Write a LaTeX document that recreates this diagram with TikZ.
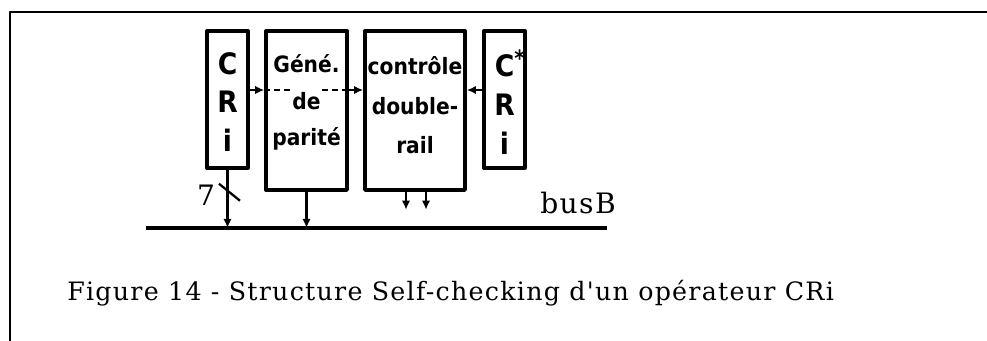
\documentclass[tikz,border=0pt]{standalone}
\usepackage{fontspec}
\setmainfont{DejaVu Serif}
\newfontfamily\boxfont{DejaVu Sans Condensed}
\newfontfamily\capfont[LetterSpace=5]{DejaVu Serif}
\usetikzlibrary{arrows.meta,positioning}

\begin{document}
\begin{tikzpicture}[x=0.025cm,y=-0.025cm,line join=round,
    >={Latex[length=6.5pt,width=6pt]},
    blk/.style={draw,line width=2.6pt,inner sep=0pt},
    narrow/.style={blk,minimum width=1.02cm,minimum height=3.42cm},
    wide/.style={blk,minimum height=3.97cm},
    txt/.style={font=\boxfont\bfseries\fontsize{16}{20}\selectfont,inner sep=1pt},
    big/.style={font=\boxfont\bfseries\fontsize{21}{27.7}\selectfont,align=center,inner sep=0pt},
    flow/.style={->,line width=1.6pt},
    lbl/.style={font=\capfont\fontsize{18}{20}\selectfont,inner sep=0pt}]
  % ---- page frame ---------------------------------------------------------
  \useasboundingbox (0,0) rectangle (987,341);
  \draw[line width=2pt] (10,341) -- (10,12) -- (987,12);

  % ---- blocks -------------------------------------------------------------
  \node[narrow] (cri)  at (227.5,99.5) {};
  \node[wide,minimum width=2.02cm] (gen) at (306.5,110.5) {};
  \node[wide,minimum width=2.5cm]  (ctl) at (415,110.5) {};
  \node[narrow] (cris) at (504.5,99.5) {};

  % ---- block texts --------------------------------------------------------
  \node[big] (criT)  at (227.5,102) {C\\R\\i};
  \node[big] (crisT) at (504.5,102) {C\rlap{\raisebox{0.6ex}{\fontsize{16}{16}\selectfont*}}\\R\\i};
  \node[txt] (genA) at (306.5,64)  {Géné.};
  \node[txt,fill=white] (genB) at (306.5,101) {de};
  \node[txt] (genC) at (306.5,139) {parité};
  \node[txt] (ctlA) at (415,66)  {contrôle};
  \node[txt] (ctlB) at (415,106) {double-};
  \node[txt] (ctlC) at (415,145) {rail};

  % ---- horizontal links ---------------------------------------------------
  \coordinate (row) at (0,90);
  \draw[flow] (cri.east |- row) -- (gen.west |- row);
  \draw[flow] (gen.east |- row) -- (ctl.west |- row);
  \draw[flow] (cris.west |- row) -- (ctl.east |- row);
  \draw[line width=1.4pt,dash pattern=on 4pt off 3pt]
    (gen.west |- row) -- (genB.west |- row);
  \draw[line width=1.4pt,dash pattern=on 4pt off 3pt]
    (genB.east |- row) -- (gen.east |- row);

  % ---- bus B --------------------------------------------------------------
  \coordinate (busL) at (146,228);
  \coordinate (busR) at (607,228);
  \draw[line width=3pt] (busL) -- (busR);
  \node[lbl,font=\capfont\fontsize{20}{22}\selectfont] (busB) at (578,203) {busB};

  \draw[flow] (cri.south) -- (cri.south |- busL);
  \draw[line width=1.6pt] ([shift={(-8.5,14)}]cri.south) -- ++(21,17);
  \node[lbl,font=\capfont\fontsize{20}{22}\selectfont] (width) at (206,195) {7};
  \draw[flow] (gen.south) -- (gen.south |- busL);
  \draw[flow] ([shift={(-9,0)}]ctl.south) -- ++(0,18);
  \draw[flow] ([shift={(11,0)}]ctl.south) -- ++(0,18);

  % ---- caption ------------------------------------------------------------
  \node[lbl,anchor=base west] (cap) at (67,300)
    {Figure 14 - Structure Self-checking d'un opérateur CRi};
\end{tikzpicture}
\end{document}
